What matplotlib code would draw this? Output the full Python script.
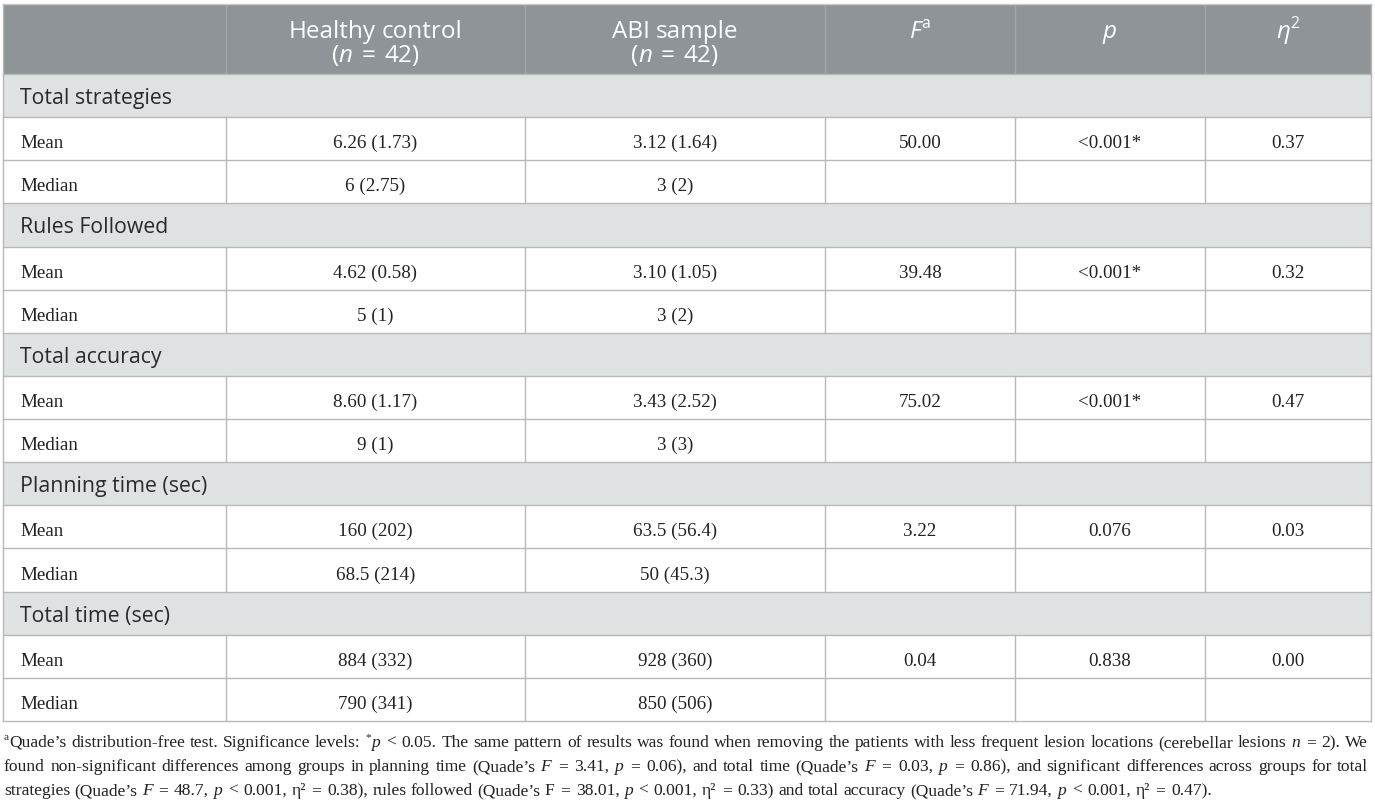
import matplotlib.pyplot as plt
from matplotlib.patches import Rectangle

SANS = "Open Sans"
SERIF = "Liberation Serif"

sections = ["Total strategies", "Rules Followed", "Total accuracy",
            "Planning time (sec)", "Total time (sec)"]
stat_labels = ["Mean", "Median"]
healthy = [["6.26 (1.73)", "6 (2.75)"], ["4.62 (0.58)", "5 (1)"],
           ["8.60 (1.17)", "9 (1)"], ["160 (202)", "68.5 (214)"],
           ["884 (332)", "790 (341)"]]
abi = [["3.12 (1.64)", "3 (2)"], ["3.10 (1.05)", "3 (2)"],
       ["3.43 (2.52)", "3 (3)"], ["63.5 (56.4)", "50 (45.3)"],
       ["928 (360)", "850 (506)"]]
f_vals = ["50.00", "39.48", "75.02", "3.22", "0.04"]
p_vals = ["<0.001*", "<0.001*", "<0.001*", "0.076", "0.838"]
eta_vals = ["0.37", "0.32", "0.47", "0.03", "0.00"]

# header pieces: (text, style)  style: "" normal, "i" italic, "s" superscript
headers = [
    None,
    [[("Healthy control", "")], [("(", ""), ("n", "i"), (" = 42)", "")]],
    [[("ABI sample", "")], [("(", ""), ("n", "i"), (" = 42)", "")]],
    [[("F", "i"), ("a", "s")]],
    [[("p", "i")]],
    [[("η", "i"), ("2", "s")]],
]

footnote = [
    [("a", "s"), ("Quade’s distribution-free test. Significance levels: ", ""), ("*", "s"),
     ("p", "i"), (" < 0.05. The same pattern of results was found when removing the patients with "
                  "less frequent lesion locations (cerebellar lesions ", ""), ("n", "i"), (" = 2). We", "")],
    [("found non-significant differences among groups in planning time (Quade’s ", ""), ("F", "i"),
     (" = 3.41, ", ""), ("p", "i"), (" = 0.06), and total time (Quade’s ", ""), ("F", "i"),
     (" = 0.03, ", ""), ("p", "i"), (" = 0.86), and significant differences across groups for total", "")],
    [("strategies (Quade’s ", ""), ("F", "i"), (" = 48.7, ", ""), ("p", "i"),
     (" < 0.001, η² = 0.38), rules followed (Quade’s F = 38.01, ", ""), ("p", "i"),
     (" < 0.001, η² = 0.33) and total accuracy (Quade’s ", ""), ("F", "i"), (" = 71.94, ", ""),
     ("p", "i"), (" < 0.001, η² = 0.47).", "")],
]
justify = [True, True, False]

col_edges = [3, 226, 525, 825, 1015, 1205, 1371]
top, head_bot, table_bot = 5, 75, 722
n_rows = len(sections) * 3
row_h = (table_bot - head_bot) / n_rows
BODY = 13.7

fig = plt.figure(figsize=(13.75, 8.03), dpi=100)
ax = fig.add_axes([0, 0, 1, 1])
ax.set_xlim(0, 1375)
ax.set_ylim(803, 0)
ax.axis("off")
renderer = fig.canvas.get_renderer()


def text_width(s, size, family, style):
    t1 = ax.text(0, 0, "|" + s + "|", fontsize=size, family=family, style=style)
    t2 = ax.text(0, 0, "||", fontsize=size, family=family, style=style)
    w = t1.get_window_extent(renderer).width - t2.get_window_extent(renderer).width
    t1.remove()
    t2.remove()
    return w


def rich(x, y, parts, ha="left", size=12.5, family=SERIF, color="#222222", width=None, pad=0.0):
    items = []
    for s, st in parts:
        fs = size * 0.65 if st == "s" else size
        style = "italic" if st == "i" else "normal"
        dy = -size * 100 / 72 * 0.42 if st == "s" else 0
        # split on spaces so a justified line can stretch them
        tokens = []
        word = ""
        for ch in s:
            if ch == " ":
                if word:
                    tokens.append(word)
                    word = ""
                tokens.append(" ")
            else:
                word += ch
        if word:
            tokens.append(word)
        for tok in tokens:
            w = text_width(tok, fs, family, style)
            off = 0
            if tok in ("=", "<"):
                w += 2 * pad
                off = pad
            items.append([tok, fs, style, dy, w, off])
    total = sum(it[4] for it in items)
    if width is not None:
        n_sp = sum(1 for it in items if it[0] == " ")
        extra = (width - total) / max(n_sp, 1)
        for it in items:
            if it[0] == " ":
                it[4] += extra
        total = width
    cx = x - total / 2 if ha == "center" else x
    for s, fs, style, dy, w, off in items:
        if s != " ":
            ax.text(cx + off, y + dy, s, fontsize=fs, family=family, style=style,
                    color=color, va="baseline", ha="left")
        cx += w


# backgrounds
ax.add_patch(Rectangle((col_edges[0], top), col_edges[-1] - col_edges[0], head_bot - top,
                       facecolor="#8f9498", edgecolor="none"))
for i in range(len(sections)):
    y0 = head_bot + 3 * i * row_h
    ax.add_patch(Rectangle((col_edges[0], y0), col_edges[-1] - col_edges[0], row_h,
                           facecolor="#dfe2e3", edgecolor="none"))

line_c = "#b8b8b8"
# horizontal lines
for k in range(n_rows + 1):
    y = head_bot + k * row_h
    ax.plot([col_edges[0], col_edges[-1]], [y, y], color=line_c, lw=1)
ax.plot([col_edges[0], col_edges[-1]], [top, top], color="#c8cacc", lw=1)
# outer verticals
for x in (col_edges[0], col_edges[-1]):
    ax.plot([x, x], [top, table_bot], color=line_c, lw=1)
# header dividers
for x in col_edges[1:-1]:
    ax.plot([x, x], [top + 2, head_bot - 2], color="#a4a8ac", lw=1)
# body dividers (only for data rows)
for i in range(len(sections)):
    y0 = head_bot + (3 * i + 1) * row_h
    for x in col_edges[1:-1]:
        ax.plot([x, x], [y0, y0 + 2 * row_h], color=line_c, lw=1)

# header text
centers = [(col_edges[j] + col_edges[j + 1]) / 2 for j in range(len(col_edges) - 1)]
for j, h in enumerate(headers):
    if h is None:
        continue
    for li, parts in enumerate(h):
        rich(centers[j], 38 + li * 24, parts, ha="center", size=17.5, family=SANS,
             color="white", pad=2.5)

# body
for i, sec in enumerate(sections):
    y0 = head_bot + 3 * i * row_h
    ax.text(20, y0 + row_h / 2 + 7.5, sec, fontsize=15.3, family=SANS, color="#2a2a2a",
            va="baseline", ha="left")
    for r in range(2):
        yb = y0 + (r + 1) * row_h + row_h / 2 + 8.5
        ax.text(20, yb, stat_labels[r], fontsize=BODY, family=SERIF, color="#222222", va="baseline")
        ax.text(centers[1], yb, healthy[i][r], fontsize=BODY, family=SERIF, color="#222222",
                va="baseline", ha="center")
        ax.text(centers[2], yb, abi[i][r], fontsize=BODY, family=SERIF, color="#222222",
                va="baseline", ha="center")
        if r == 0:
            for j, v in zip((3, 4, 5), (f_vals[i], p_vals[i], eta_vals[i])):
                ax.text(centers[j], yb, v, fontsize=BODY, family=SERIF, color="#222222",
                        va="baseline", ha="center")

# footnote
for li, parts in enumerate(footnote):
    rich(4, 747 + li * 24, parts, size=12.6, width=1364 if justify[li] else None, pad=1.3)

fig.savefig("out.png", dpi=100)
